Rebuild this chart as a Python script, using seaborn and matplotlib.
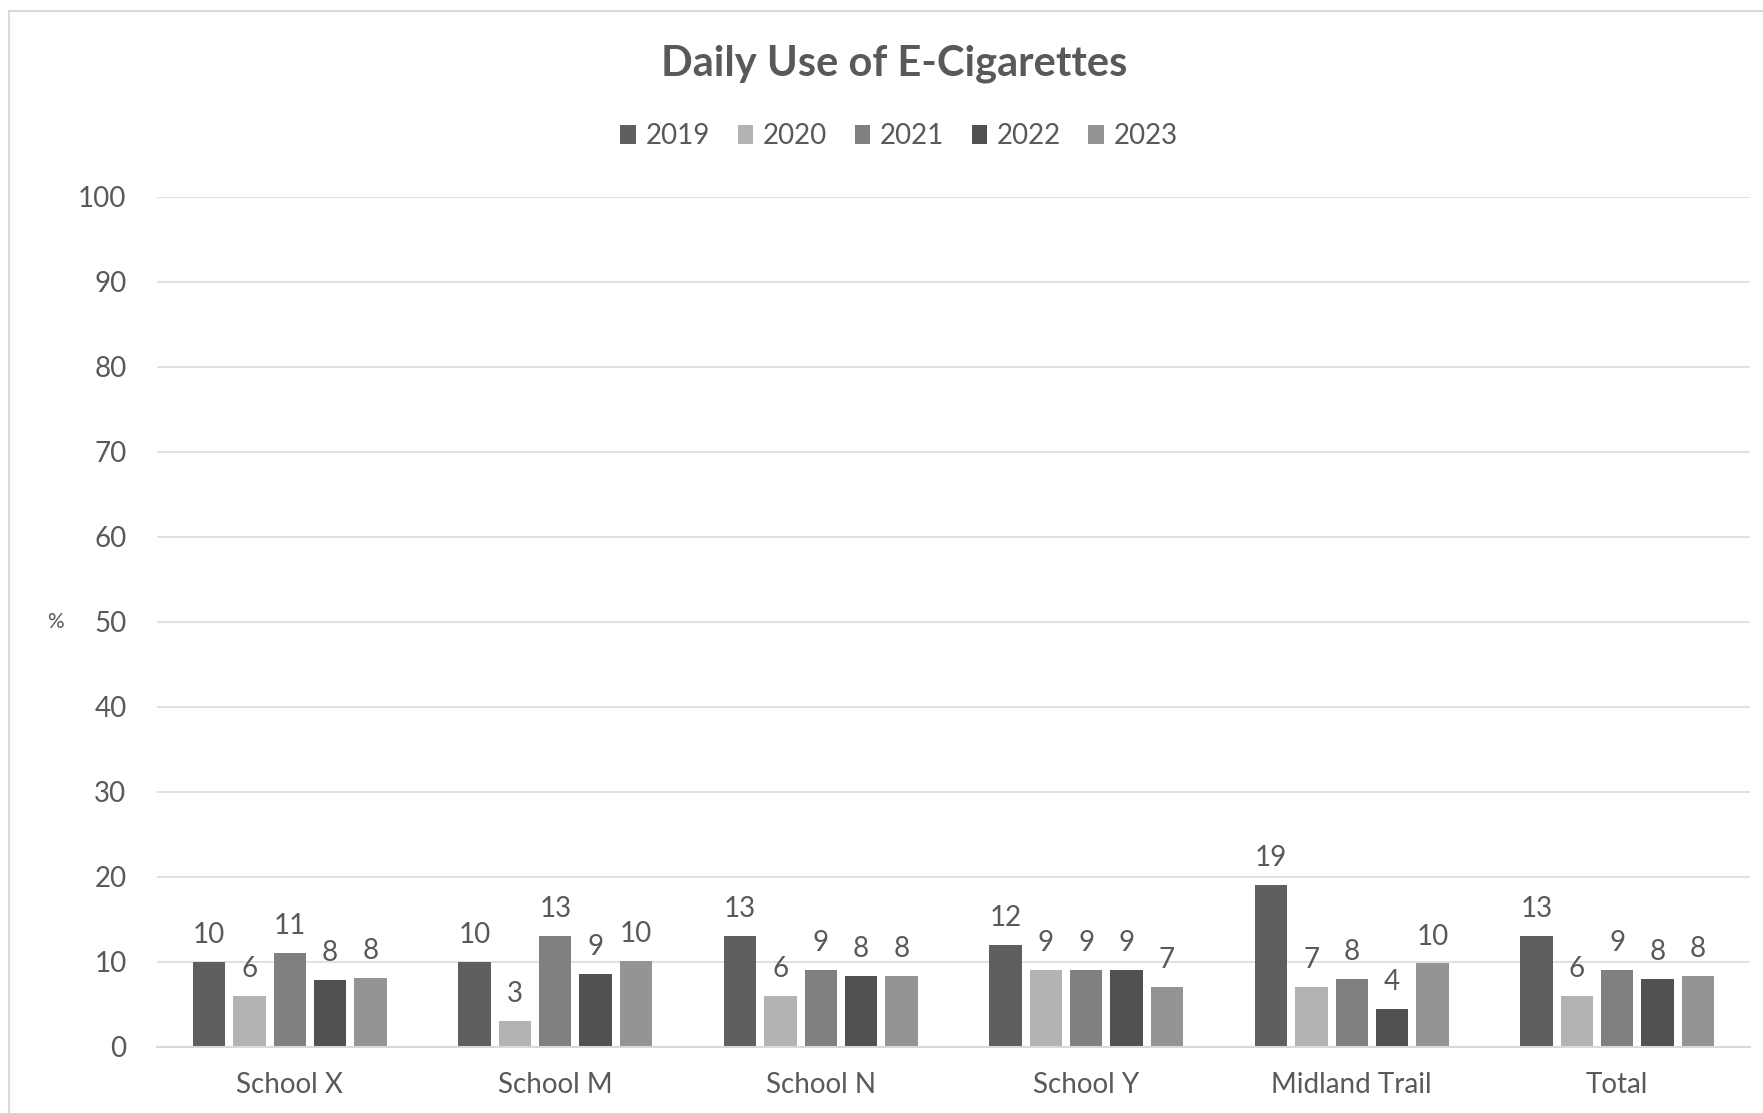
import matplotlib
matplotlib.use("Agg")
import matplotlib.pyplot as plt
import seaborn as sns
import pandas as pd
from matplotlib.patches import Rectangle

categories = ["School X", "School M", "School N", "School Y", "Midland Trail", "Total"]
years = ["2019", "2020", "2021", "2022", "2023"]
v2019 = [10, 10, 13, 12, 19, 13]
v2020 = [6, 3, 6, 9, 7, 6]
v2021 = [11, 13, 9, 9, 8, 9]
v2022 = [7.9, 8.6, 8.35, 9, 4.4, 8]
v2023 = [8.1, 10.1, 8.35, 7, 9.8, 8.35]
colors = ["#5f5f5f", "#b3b3b3", "#808080", "#515151", "#949494"]
yticks = [0, 10, 20, 30, 40, 50, 60, 70, 80, 90, 100]

series = [v2019, v2020, v2021, v2022, v2023]
rows = []
for y, vals in zip(years, series):
    for c, v in zip(categories, vals):
        rows.append({"School": c, "Year": y, "Value": v})
df = pd.DataFrame(rows)

sns.set_style("white")
plt.rcParams["font.family"] = ["Lato", "DejaVu Sans"]
TXT = "#595959"
GRID = "#d9d9d9"

W, H = 1763, 1113
fig = plt.figure(figsize=(W / 100, H / 100), dpi=100)
ax = fig.add_axes([157 / W, 1 - 1046.7 / H, (1750 - 157) / W, (1046.7 - 196.7) / H])

sns.barplot(data=df, x="School", y="Value", hue="Year", order=categories,
            hue_order=years, palette=colors, width=0.76, gap=0.2,
            linewidth=0, saturation=1, ax=ax, legend=True)

for cont in ax.containers:
    ax.bar_label(cont, fmt="%.0f", padding=10, fontsize=20, color=TXT)

ax.set_ylim(0, 100)
ax.set_xlim(-0.5, len(categories) - 0.5)
ax.set_yticks(yticks)
ax.yaxis.grid(True, color=GRID, linewidth=1.1)
ax.set_axisbelow(True)
for s in ["top", "right", "left"]:
    ax.spines[s].set_visible(False)
ax.spines["bottom"].set_color(GRID)
ax.spines["bottom"].set_linewidth(1.5)
ax.tick_params(axis="y", length=0, pad=22, labelsize=20, labelcolor=TXT)
ax.tick_params(axis="x", length=0, pad=18.5, labelsize=20, labelcolor=TXT)
ax.set_xlabel("")
ax.set_ylabel("%", rotation=0, fontsize=15, color=TXT, va="center", ha="center")
ax.yaxis.set_label_coords((55 - 157) / (1750 - 157), 0.5)

handles, labels = ax.get_legend_handles_labels()
ax.get_legend().remove()
fig.legend(handles, labels, loc="center", bbox_to_anchor=(899 / W, 1 - 136 / H),
           ncol=5, frameon=False, fontsize=20, labelcolor=TXT,
           handlelength=0.55, handleheight=0.7, handletextpad=0.35,
           columnspacing=1.0)

fig.text(894 / W, 1 - 64 / H, "Daily Use of E-Cigarettes", ha="center", va="center",
         fontsize=30, fontweight="bold", color=TXT)

fig.patches.append(Rectangle((9 / W, -0.1), 1.2, 1.1 - 11 / H, transform=fig.transFigure,
                             fill=False, edgecolor=GRID, linewidth=1.5))

fig.savefig("out.png", dpi=100)
